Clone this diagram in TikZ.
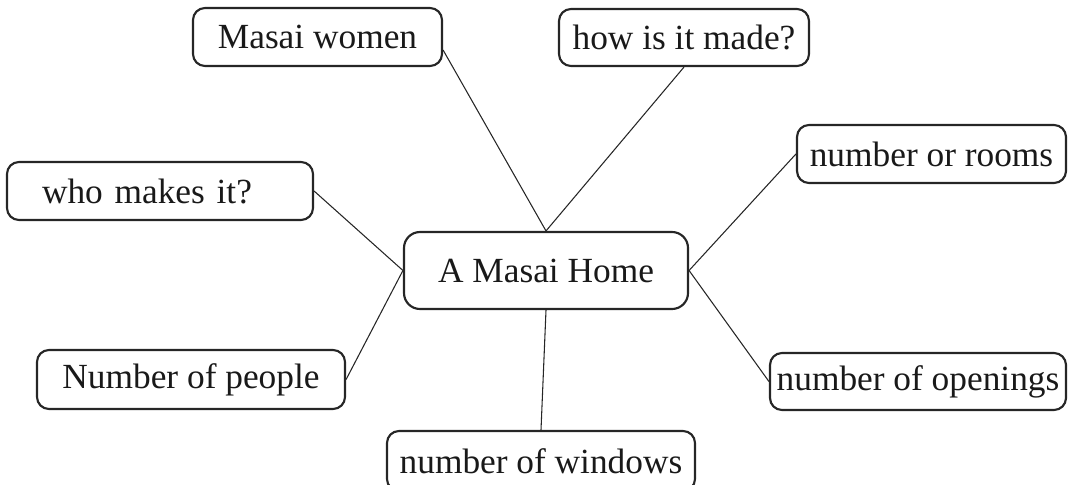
\documentclass[tikz,border=0pt]{standalone}
\usepackage{fontspec}
\setmainfont{Liberation Serif}
\usetikzlibrary{calc}
\begin{document}
\begin{tikzpicture}[x=0.75pt,y=-0.75pt,
  box/.style={draw=black!85, line width=1.6pt, rounded corners=9pt, inner sep=0pt,
    font=\fontsize{26.5}{30}\selectfont, text=black!90, align=center},
  link/.style={draw=black!85, line width=0.8pt}]
\useasboundingbox (0,0) rectangle (1070,485);
\node[box, minimum width=249*0.75pt, minimum height=58*0.75pt] (mw) at (317.5,37) {Masai women};
\node[box, minimum width=250*0.75pt, minimum height=57*0.75pt] (hm) at (684,37.5) {how is it made?};
\node[box, minimum width=269*0.75pt, minimum height=58*0.75pt] (nr) at (931.5,154) {number or rooms};
\node[box, minimum height=58*0.75pt, text width=236*0.75pt, inner xsep=35*0.75pt, align=left] (wm) at (160,191) {who makes it?};
\node[box, minimum width=284*0.75pt, minimum height=77*0.75pt, rounded corners=12pt] (ah) at (546,270.5) {A Masai Home};
\node[box, minimum width=308*0.75pt, minimum height=59*0.75pt] (np) at (191,379.5) {Number of people};
\node[box, minimum width=296*0.75pt, minimum height=57*0.75pt] (no) at (918,381.5) {number of openings};
\node[box, minimum width=308*0.75pt, minimum height=60*0.75pt] (nw) at (541,461) {number of windows};
\draw[link] ($(mw.east)+(0,13)$) -- (ah.north);
\draw[link] (hm.south) -- (ah.north);
\draw[link] (nr.west) -- (ah.east);
\draw[link] (no.west) -- (ah.east);
\draw[link] (wm.east) -- (ah.west);
\draw[link] (np.east) -- (ah.west);
\draw[link] (ah.south) -- (nw.north);
\end{tikzpicture}
\end{document}
